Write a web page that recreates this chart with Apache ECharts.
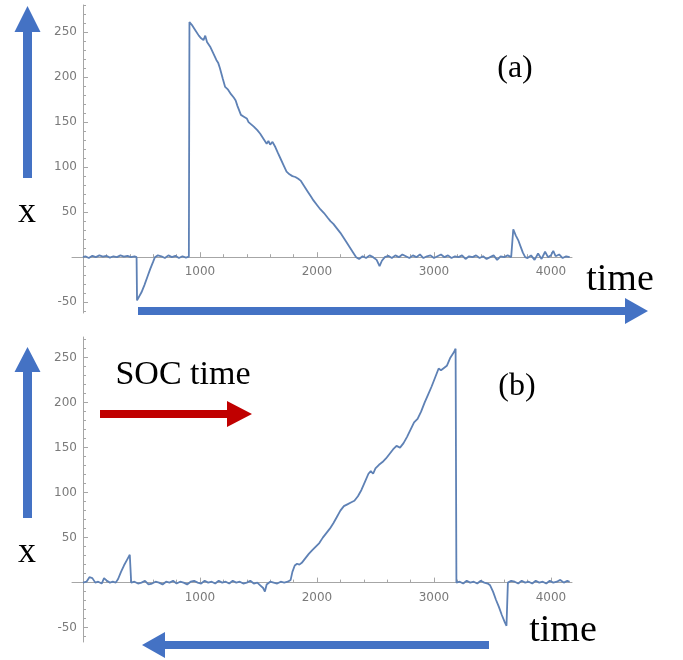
<!DOCTYPE html>
<html>
<head>
<meta charset="utf-8">
<script src="https://cdn.jsdelivr.net/npm/echarts@6/dist/echarts.min.js"></script>
<style>
html,body{margin:0;padding:0;background:#fff;}
#chart{width:683px;height:660px;}
</style>
</head>
<body>
<div id="chart"></div>
<script>
// ---- data: panel (a) ----
const tA = [0,20,50,80,110,140,170,200,230,260,290,320,350,380,410,440,458,462,475,500,525,550,575,600,615,640,670,700,730,760,790,820,850,880,905,
910,930,945,960,975,990,1010,1030,1045,1060,1075,1090,1115,1140,1155,1170,1195,1215,1240,1265,1290,1305,1320,1350,1362,1375,1400,1415,1430,1460,1475,1490,1515,1530,1545,1570,1585,1600,1620,1645,1665,1690,1715,1740,1765,1790,1815,1840,1860,1875,1890,1920,1935,1950,1970,2000,2015,2030,2060,2090,2115,2140,2155,2170,2200,2225,2250,2265,2280,2310,2335,
2360,2390,2420,2450,2480,2510,2535,2555,2580,2610,2640,2670,2700,2730,2760,2790,2820,2850,2880,2910,2940,2970,3000,3030,3060,3090,3120,3150,3180,3210,3240,3270,3300,3330,3360,3390,3420,3450,3480,3510,3540,3570,3600,3630,3660,3672,
3678,3700,3720,3740,3760,3780,3800,3830,3860,3890,3920,3950,3975,4000,4020,4040,4070,4100,4130,4160];
const xA = [0,1,-1,1.5,0,2,0.5,1.5,-0.5,1,0,2,0.5,1.5,0,1,0,-48,-46,-39,-31,-22,-13,-5,0,2,1,-1,2,0,1.5,-1,1,-0.5,0.5,
261,258,256,252,250,246,243,241,246,239,237,233,226,219,216,210,198,189,186,181,177,174,168,158,159,156,154,150,148,145,146,141,137,135,131,126,129,125,128,122,116,109,102,95,92,90,89,87,85,83,79,73,71,67,63,58,56,53,49,44,40,37,35,32,27,22,17,15,11,5,0,
-2,1,-1,2,0,-3,-10,-4,0,1.5,-1,2,0,3,1,-1,2,0,3,-1,1,2,-1,1,3,0,2,-1,1,0,2,-2,1,0,2,-1,1,-2,0,2,-3,1,0,2,0,1,
31,24,19,12,5,0,-1,2,-3,4,-2,6,0,2,7,1,3,-1,1,0];

// ---- data: panel (b) ----
const tB = [0,30,55,80,105,130,160,180,205,230,255,280,300,325,350,375,400,408,412,440,470,500,530,560,590,620,650,680,710,740,770,800,830,860,890,920,950,980,1010,1040,1070,1100,1130,1160,1190,1220,1250,1280,1310,1340,1370,1400,1430,1460,1490,1515,1540,1555,1570,1600,1630,1660,1690,1720,1750,1765,
1775,1790,1810,1830,1850,1870,1900,1930,1960,1975,1990,2020,2050,2065,2080,2110,2140,2170,2200,2230,2260,2290,2320,2350,2380,2410,2440,2460,2480,2500,2530,2560,2575,2590,2620,2650,2680,2710,2740,2770,2800,2830,2860,2875,2890,2920,2950,2980,3010,3040,3060,3080,3110,3140,3170,3185,
3192,3220,3250,3280,3310,3340,3370,3400,3430,3460,3480,3505,3530,3555,3580,3605,3620,3628,3632,3660,3690,3720,3750,3780,3810,3840,3870,3900,3930,3960,3990,4020,4050,4080,4110,4140,4160];
const xB = [0,1,6,5,0,1,-1,5,2,0,1,0,4,12,19,25,31,32,0,1,-1,0,2,-2,-1,1,0,-2,1,0,2,-1,1,0,-2,1,2,0,-1,2,0,1,-1,2,0,1,-1,2,0,1,-1,0,2,-1,0,-3,-6,-10,-2,1,0,-1,1,0,1,0,
3,12,19,21,20,22,27,32,36,37,40,44,50,51,55,60,66,73,80,85,87,89,91,96,103,112,121,124,121,127,131,134,133,138,143,148,152,150,155,162,170,178,182,180,190,200,209,218,228,238,236,238,241,250,256,260,
0,1,-1,2,0,1,-1,2,0,-1,-3,-10,-19,-27,-36,-44,-48,-46,0,2,1,-1,2,0,1,-1,2,0,1,-1,2,0,1,3,0,2,1];

// ---- ticks ----
const xTickLabels = [1000, 2000, 3000, 4000];
const xMajorTicks = [0, 1000, 2000, 3000, 4000];
const xMinorTicks = [200,400,600,800,1200,1400,1600,1800,2200,2400,2600,2800,3200,3400,3600,3800,4200];
const yMajorTicks = [-50, 0, 50, 100, 150, 200, 250];
const yTickLabels = [-50, 50, 100, 150, 200, 250];
const yMinorTicksA = [-60,-40,-30,-20,-10,10,20,30,40,60,70,80,90,110,120,130,140,160,170,180,190,210,220,230,240,260,270,280];
const yMinorTicksB = [-60,-40,-30,-20,-10,10,20,30,40,60,70,80,90,110,120,130,140,160,170,180,190,210,220,230,240,260,270];

const zip = (t, v) => t.map((x, i) => [x, v[i]]);

const axisGray = '#a6a6a6';
const labelGray = '#7a7a7a';
const lineBlue = '#5e81b5';
const arrowBlue = '#4472c4';
const arrowRed = '#c00000';
const serif = '"Liberation Serif", "DejaVu Serif", serif';
const tickFont = '"DejaVu Sans", sans-serif';

const X_MIN = -94, X_MAX = 4180;
// vertical distance (px) from grid bottom up to the zero line, and from grid left to x = 0
const zeroOffA = -55.8, zeroOffB = -59.4, yAxisShift = -11;

function xAxisDef(gi, off) {
  return {
    type: 'value', gridIndex: gi, min: X_MIN, max: X_MAX, position: 'bottom', offset: off,
    axisLine: { show: true, onZero: false, lineStyle: { color: axisGray, width: 1 } },
    axisTick: { show: true, inside: true, length: 5, customValues: xMajorTicks, lineStyle: { color: axisGray } },
    axisLabel: { color: labelGray, fontSize: 12, fontFamily: tickFont, margin: 9, customValues: xTickLabels,
      formatter: v => String(v) },
    splitLine: { show: false }
  };
}
function xAxisMinor(gi, off) {
  return {
    type: 'value', gridIndex: gi, min: X_MIN, max: X_MAX, position: 'bottom', offset: off,
    axisLine: { show: false, onZero: false },
    axisTick: { show: true, inside: true, length: 3, customValues: xMinorTicks, lineStyle: { color: axisGray } },
    axisLabel: { show: false },
    splitLine: { show: false }
  };
}
function yAxisMajor(gi, min, max) {
  return {
    type: 'value', gridIndex: gi, min: min, max: max, position: 'left', offset: yAxisShift,
    axisLine: { show: true, onZero: false, lineStyle: { color: axisGray, width: 1 } },
    axisTick: { show: true, inside: true, length: 5, customValues: yMajorTicks, lineStyle: { color: axisGray } },
    axisLabel: { color: labelGray, fontSize: 12, fontFamily: tickFont, margin: 6, customValues: yTickLabels,
      formatter: v => String(v) },
    splitLine: { show: false }
  };
}
function yAxisMinor(gi, min, max, ticks) {
  return {
    type: 'value', gridIndex: gi, min: min, max: max, position: 'left', offset: yAxisShift,
    axisLine: { show: false, onZero: false },
    axisTick: { show: true, inside: true, length: 3, customValues: ticks, lineStyle: { color: axisGray } },
    axisLabel: { show: false },
    splitLine: { show: false }
  };
}

function arrowUp(cx, yTop, yBottom, headBase) {
  return { type: 'polygon', shape: { points: [
    [cx - 4.5, yBottom], [cx - 4.5, headBase], [cx - 13, headBase], [cx, yTop],
    [cx + 13, headBase], [cx + 4.5, headBase], [cx + 4.5, yBottom]] },
    style: { fill: arrowBlue }, z: 10 };
}
function arrowRight(xL, xTip, headBase, cy, color) {
  return { type: 'polygon', shape: { points: [
    [xL, cy - 4], [headBase, cy - 4], [headBase, cy - 13], [xTip, cy],
    [headBase, cy + 13], [headBase, cy + 4], [xL, cy + 4]] },
    style: { fill: color }, z: 10 };
}
function arrowLeft(xTip, xR, headBase, cy, color) {
  return { type: 'polygon', shape: { points: [
    [xR, cy - 4], [headBase, cy - 4], [headBase, cy - 13], [xTip, cy],
    [headBase, cy + 13], [headBase, cy + 4], [xR, cy + 4]] },
    style: { fill: color }, z: 10 };
}
function label(text, x, y, size, color) {
  return { type: 'text', x: x, y: y, z: 10,
    style: { text: text, fill: color || '#000', font: size + 'px ' + serif, align: 'center', verticalAlign: 'middle' } };
}

const chart = echarts.init(document.getElementById('chart'));
chart.setOption({
  backgroundColor: '#ffffff',
  animation: false,
  grid: [
    { left: 72, right: 111, top: 5, height: 308 },
    { left: 72, right: 111, top: 337, height: 305 }
  ],
  xAxis: [xAxisDef(0, zeroOffA), xAxisMinor(0, zeroOffA), xAxisDef(1, zeroOffB), xAxisMinor(1, zeroOffB)],
  yAxis: [
    yAxisMajor(0, -62, 280), yAxisMinor(0, -62, 280, yMinorTicksA),
    yAxisMajor(1, -66, 273), yAxisMinor(1, -66, 273, yMinorTicksB)
  ],
  series: [
    { type: 'line', xAxisIndex: 0, yAxisIndex: 0, data: zip(tA, xA), showSymbol: false,
      lineStyle: { color: lineBlue, width: 1.8 }, z: 3 },
    { type: 'line', xAxisIndex: 2, yAxisIndex: 2, data: zip(tB, xB), showSymbol: false,
      lineStyle: { color: lineBlue, width: 1.8 }, z: 3 }
  ],
  graphic: [
    arrowUp(27.5, 6, 178, 32),
    arrowUp(27.5, 347, 518, 372),
    arrowRight(138, 648, 625, 311, arrowBlue),
    arrowRight(100, 252, 227, 414, arrowRed),
    arrowLeft(142, 489, 165, 645, arrowBlue),
    label('x', 27, 213, 36),
    label('x', 27, 553, 36),
    label('(a)', 515, 69, 32),
    label('(b)', 517, 387, 32),
    label('time', 620, 280, 38),
    label('time', 563, 631, 38),
    label('SOC time', 183, 375, 34)
  ]
});
</script>
</body>
</html>
